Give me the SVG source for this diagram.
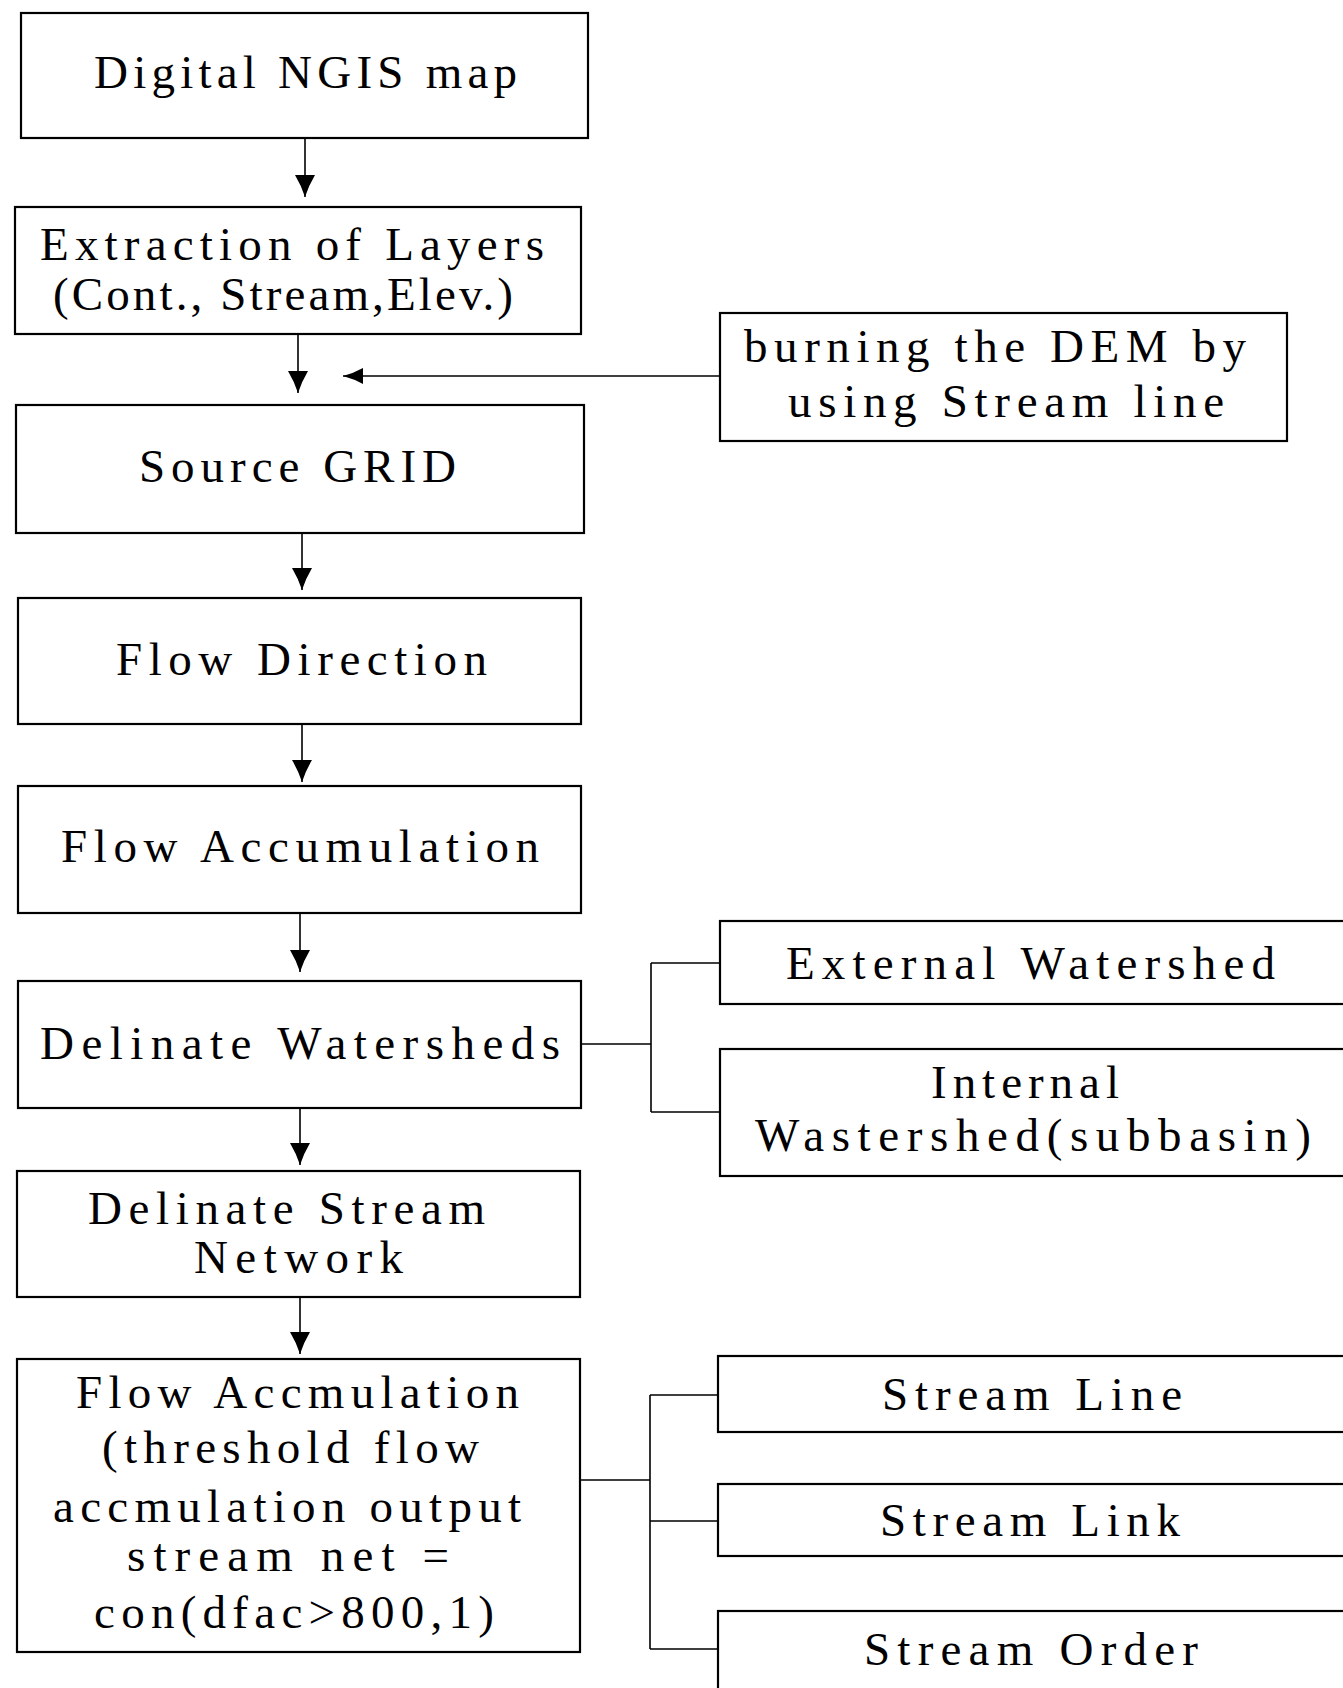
<svg xmlns="http://www.w3.org/2000/svg" width="1343" height="1688" viewBox="0 0 1343 1688">
<style>
.box{fill:#fff;stroke:#000;stroke-width:2.2}
.t{font-family:"Liberation Serif","Times New Roman",serif;font-size:47px;fill:#000}
.c{fill:none;stroke:#000;stroke-width:1.6}
</style>
<defs>
<marker id="ah" markerUnits="userSpaceOnUse" viewBox="0 0 22 20" refX="22" refY="10" markerWidth="22" markerHeight="20" orient="auto">
<path d="M0,0 Q10,6 22,10 Q10,14 0,20 Z" fill="#000"/>
</marker>
<marker id="ahs" markerUnits="userSpaceOnUse" viewBox="0 0 20 16" refX="20" refY="8" markerWidth="20" markerHeight="16" orient="auto">
<path d="M0,0 Q9,5 20,8 Q9,11 0,16 Z" fill="#000"/>
</marker>
</defs>
<rect width="1343" height="1688" fill="#fff"/>
<g id="connectors">
<line class="c" x1="305" y1="139" x2="305" y2="197" marker-end="url(#ah)"/>
<line class="c" x1="298" y1="334" x2="298" y2="393" marker-end="url(#ah)"/>
<line class="c" x1="720" y1="376" x2="343" y2="376" marker-end="url(#ahs)"/>
<line class="c" x1="302" y1="533" x2="302" y2="590" marker-end="url(#ah)"/>
<line class="c" x1="302" y1="724" x2="302" y2="782" marker-end="url(#ah)"/>
<line class="c" x1="300" y1="913" x2="300" y2="972" marker-end="url(#ah)"/>
<line class="c" x1="300" y1="1108" x2="300" y2="1165" marker-end="url(#ah)"/>
<line class="c" x1="300" y1="1297" x2="300" y2="1354" marker-end="url(#ah)"/>
<path class="c" d="M581,1044 H651 M651,963 V1112 M651,963 H720 M651,1112 H720"/>
<path class="c" d="M580,1480 H650 M650,1395 V1649 M650,1395 H718 M650,1521 H718 M650,1649 H718"/>
</g>
<g id="n1"><rect class="box" x="21" y="13" width="567" height="125"/>
<text class="t" x="94" y="88" textLength="423" lengthAdjust="spacing">Digital NGIS map</text></g>
<g id="n2"><rect class="box" x="15" y="207" width="566" height="127"/>
<text class="t" x="40" y="260" textLength="504" lengthAdjust="spacing">Extraction of Layers</text>
<text class="t" x="53" y="310" textLength="460" lengthAdjust="spacing">(Cont., Stream,Elev.)</text></g>
<g id="n_burn"><rect class="box" x="720" y="313" width="567" height="128"/>
<text class="t" x="744" y="362" textLength="502" lengthAdjust="spacing">burning the DEM by</text>
<text class="t" x="788" y="417" textLength="436" lengthAdjust="spacing">using Stream line</text></g>
<g id="n3"><rect class="box" x="16" y="405" width="568" height="128"/>
<text class="t" x="139" y="482" textLength="317" lengthAdjust="spacing">Source GRID</text></g>
<g id="n4"><rect class="box" x="18" y="598" width="563" height="126"/>
<text class="t" x="116" y="675" textLength="371" lengthAdjust="spacing">Flow Direction</text></g>
<g id="n5"><rect class="box" x="18" y="786" width="563" height="127"/>
<text class="t" x="61" y="862" textLength="478" lengthAdjust="spacing">Flow Accumulation</text></g>
<g id="n6"><rect class="box" x="18" y="981" width="563" height="127"/>
<text class="t" x="40" y="1059" textLength="520" lengthAdjust="spacing">Delinate Watersheds</text></g>
<g id="n_ext"><rect class="box" x="720" y="921" width="640" height="83"/>
<text class="t" x="786" y="979" textLength="489" lengthAdjust="spacing">External Watershed</text></g>
<g id="n_int"><rect class="box" x="720" y="1049" width="640" height="127"/>
<text class="t" x="931" y="1098" textLength="188" lengthAdjust="spacing">Internal</text>
<text class="t" x="755" y="1151" textLength="556" lengthAdjust="spacing">Wastershed(subbasin)</text></g>
<g id="n7"><rect class="box" x="17" y="1171" width="563" height="126"/>
<text class="t" x="88" y="1224" textLength="397" lengthAdjust="spacing">Delinate Stream</text>
<text class="t" x="194" y="1273" textLength="209" lengthAdjust="spacing">Network</text></g>
<g id="n8"><rect class="box" x="17" y="1359" width="563" height="293"/>
<text class="t" x="76" y="1408" textLength="443" lengthAdjust="spacing">Flow Accmulation</text>
<text class="t" x="102" y="1463" textLength="377" lengthAdjust="spacing">(threshold flow</text>
<text class="t" x="53" y="1522" textLength="468" lengthAdjust="spacing">accmulation output</text>
<text class="t" x="127" y="1571" textLength="322" lengthAdjust="spacing">stream net =</text>
<text class="t" x="94" y="1628" textLength="400" lengthAdjust="spacing">con(dfac&gt;800,1)</text></g>
<g id="n_line"><rect class="box" x="718" y="1356" width="640" height="76"/>
<text class="t" x="882" y="1410" textLength="300" lengthAdjust="spacing">Stream Line</text></g>
<g id="n_link"><rect class="box" x="718" y="1484" width="640" height="72"/>
<text class="t" x="880" y="1536" textLength="300" lengthAdjust="spacing">Stream Link</text></g>
<g id="n_order"><rect class="box" x="718" y="1611" width="640" height="100"/>
<text class="t" x="864" y="1665" textLength="334" lengthAdjust="spacing">Stream Order</text></g>
</svg>
